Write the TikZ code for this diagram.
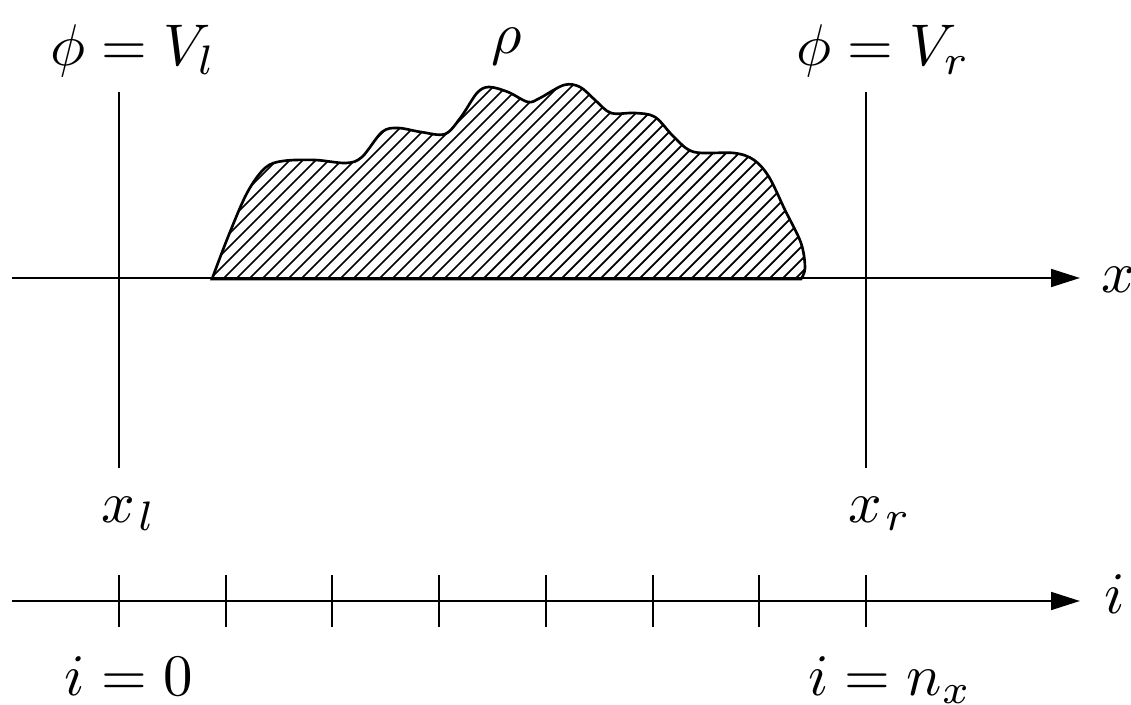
\documentclass[tikz,border=0pt]{standalone}
\usetikzlibrary{arrows.meta}
\begin{document}
\begin{tikzpicture}[x=0.17pt,y=-0.17pt,
  axis/.style={line width=0.45pt,-{Triangle[length=4.9pt,width=3.0pt]}},
  wall/.style={line width=0.35pt},
  tick/.style={line width=0.3pt},
  lbl/.style={inner sep=0pt,anchor=base},
  hatch/.style={line width=0.3pt},
  blob/.style={line width=0.45pt}]
\useasboundingbox (0,0) rectangle (1131,705);
% x axis
\coordinate (xa0) at (12,278);
\coordinate (xa1) at (1080,278);
\draw[axis] (xa0) -- (xa1);
\node[lbl] (xlab) at (1118,293) {$x$};
% walls
\coordinate (lt) at (119,92);
\coordinate (lb) at (119,468);
\coordinate (rt) at (866,92);
\coordinate (rb) at (866,468);
\draw[wall] (lt) -- (lb);
\draw[wall] (rt) -- (rb);
% blob
\def\blobpath{plot[smooth,tension=0.55] coordinates {(212,279) (228,237) (247,193) (265,168) (283,161) (315,160) (346,163) (362,157) (382,132) (398,128) (421,132) (445,134) (461,117) (477,93) (489,87) (508,92) (528,102) (540,98) (564,85) (580,87) (595,100) (611,113) (635,113) (655,117) (674,137) (694,152) (734,153) (754,160) (769,177) (785,210) (801,243) (805,268) (801,279)}}
\begin{scope}
  \clip \blobpath -- cycle;
  \foreach \k in {-100,-87,...,820} {
    \draw[hatch] (\k,290) -- (\k+230,60);
  }
\end{scope}
\draw[blob] \blobpath -- cycle;
% top labels
\node[lbl] (phil) at (133,66) {$\phi = V_l$};
\node[lbl] (rho) at (507,54) {$\rho$};
\node[lbl] (phir) at (883,66) {$\phi = V_r$};
% wall labels
\node[lbl] (xl) at (129,522) {$x_{\mkern1mu l}$};
\node[lbl] (xr) at (880,522) {$x_{\mkern1mu r}$};
% i axis
\coordinate (ia0) at (12,601);
\coordinate (ia1) at (1080,601);
\draw[axis] (ia0) -- (ia1);
\node[lbl] (ilab) at (1115,613) {$i$};
\foreach \n [count=\c from 0] in {119,226,332,439,546,653,759,866} {
  \coordinate (t\c a) at (\n,575);
  \coordinate (t\c b) at (\n,627);
  \draw[tick] (t\c a) -- (t\c b);
}
\node[lbl] (i0) at (129,695) {$i = 0$};
\node[lbl] (inx) at (890,695) {$i = n_x$};
\end{tikzpicture}
\end{document}
